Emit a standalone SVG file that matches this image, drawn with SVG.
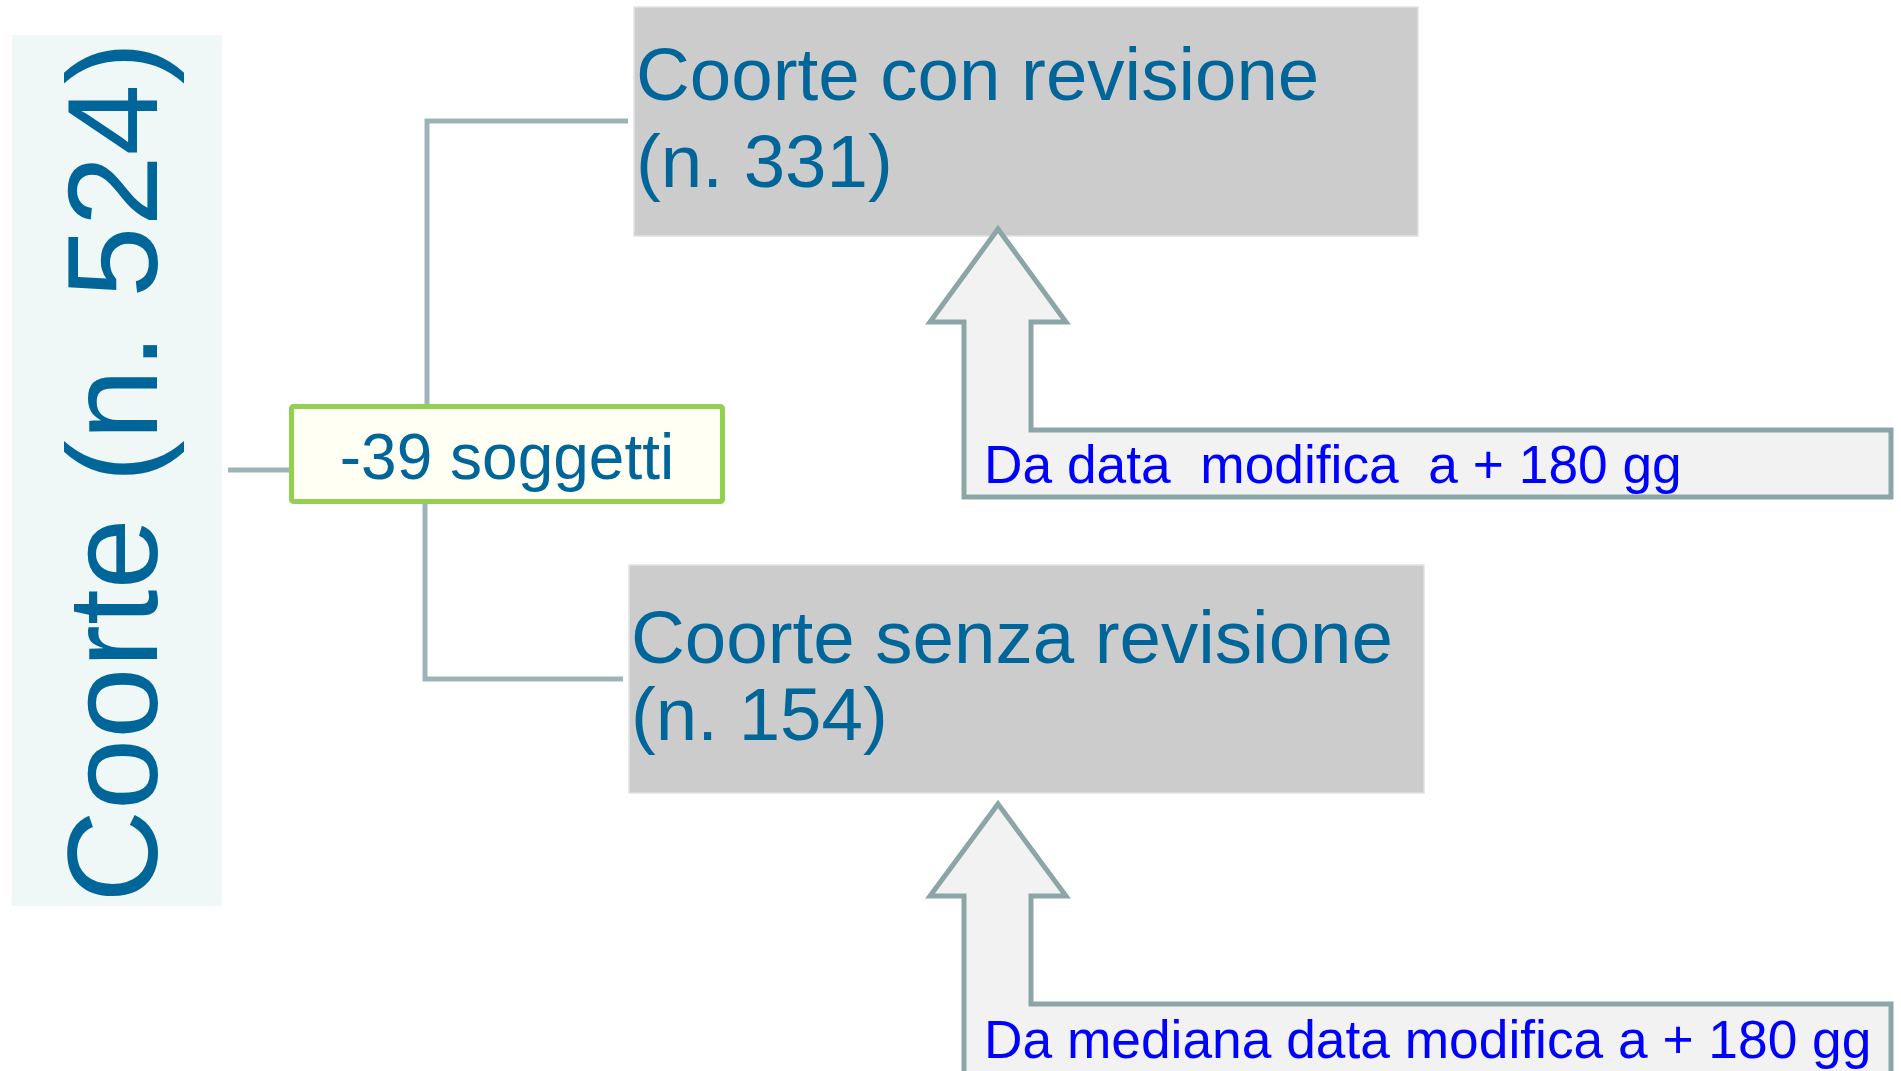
<svg xmlns="http://www.w3.org/2000/svg" width="1901" height="1071" viewBox="0 0 1901 1071">
<style>
  .t { font-family: "Liberation Sans", Arial, sans-serif; fill: #006699; }
  .lbl { font-family: "Liberation Sans", Arial, sans-serif; fill: #0000ff; font-size: 53.3px; white-space: pre; }
  .conn { fill: none; stroke: #9cb4b8; stroke-width: 5; }
  .box { fill: #cccccc; stroke: #e2e2e2; stroke-width: 1.5; }
  .arrow { fill: #f2f2f2; stroke: #8ca6a8; stroke-width: 5; stroke-linejoin: miter; }
</style>
<rect width="1901" height="1071" fill="#ffffff"/>
<g id="connectors">
  <line class="conn" x1="228" y1="470" x2="290" y2="470"/>
  <polyline class="conn" points="427,404 427,121 628,121"/>
  <polyline class="conn" points="425,504 425,679 623,679"/>
</g>
<g id="node-coorte">
  <rect x="12" y="35" width="210" height="871" fill="#eff8f7"/>
  <text class="t" font-size="128" text-anchor="middle" transform="translate(157,472) rotate(-90)">Coorte (n. 524)</text>
</g>
<g id="node-soggetti">
  <rect x="291.5" y="406.5" width="431" height="95" rx="2" fill="#fffff3" stroke="#92d050" stroke-width="5"/>
  <text class="t" font-size="64" text-anchor="middle" x="507" y="479">-39 soggetti</text>
</g>
<g id="node-con">
  <rect class="box" x="634" y="7" width="784" height="229"/>
  <text class="t" font-size="74.5" x="636" y="100">Coorte con revisione</text>
  <text class="t" font-size="74.5" x="636" y="187">(n. 331)</text>
</g>
<g id="node-senza">
  <rect class="box" x="629" y="565" width="795" height="228"/>
  <text class="t" font-size="74.5" x="631" y="663">Coorte senza revisione</text>
  <text class="t" font-size="74.5" x="631" y="740">(n. 154)</text>
</g>
<g id="arrow-con">
  <polygon class="arrow" points="998,229 1066,322 1031,322 1031,430 1891,430 1891,497 964,497 964,322 930,322"/>
  <text class="lbl" x="984" y="483">Da data  modifica  a + 180 gg</text>
</g>
<g id="arrow-senza">
  <polygon class="arrow" points="998,804 1066,896 1031,896 1031,1004 1891,1004 1891,1090 964,1090 964,896 930,896"/>
  <text class="lbl" x="984" y="1058">Da mediana data modifica a + 180 gg</text>
</g>
</svg>
